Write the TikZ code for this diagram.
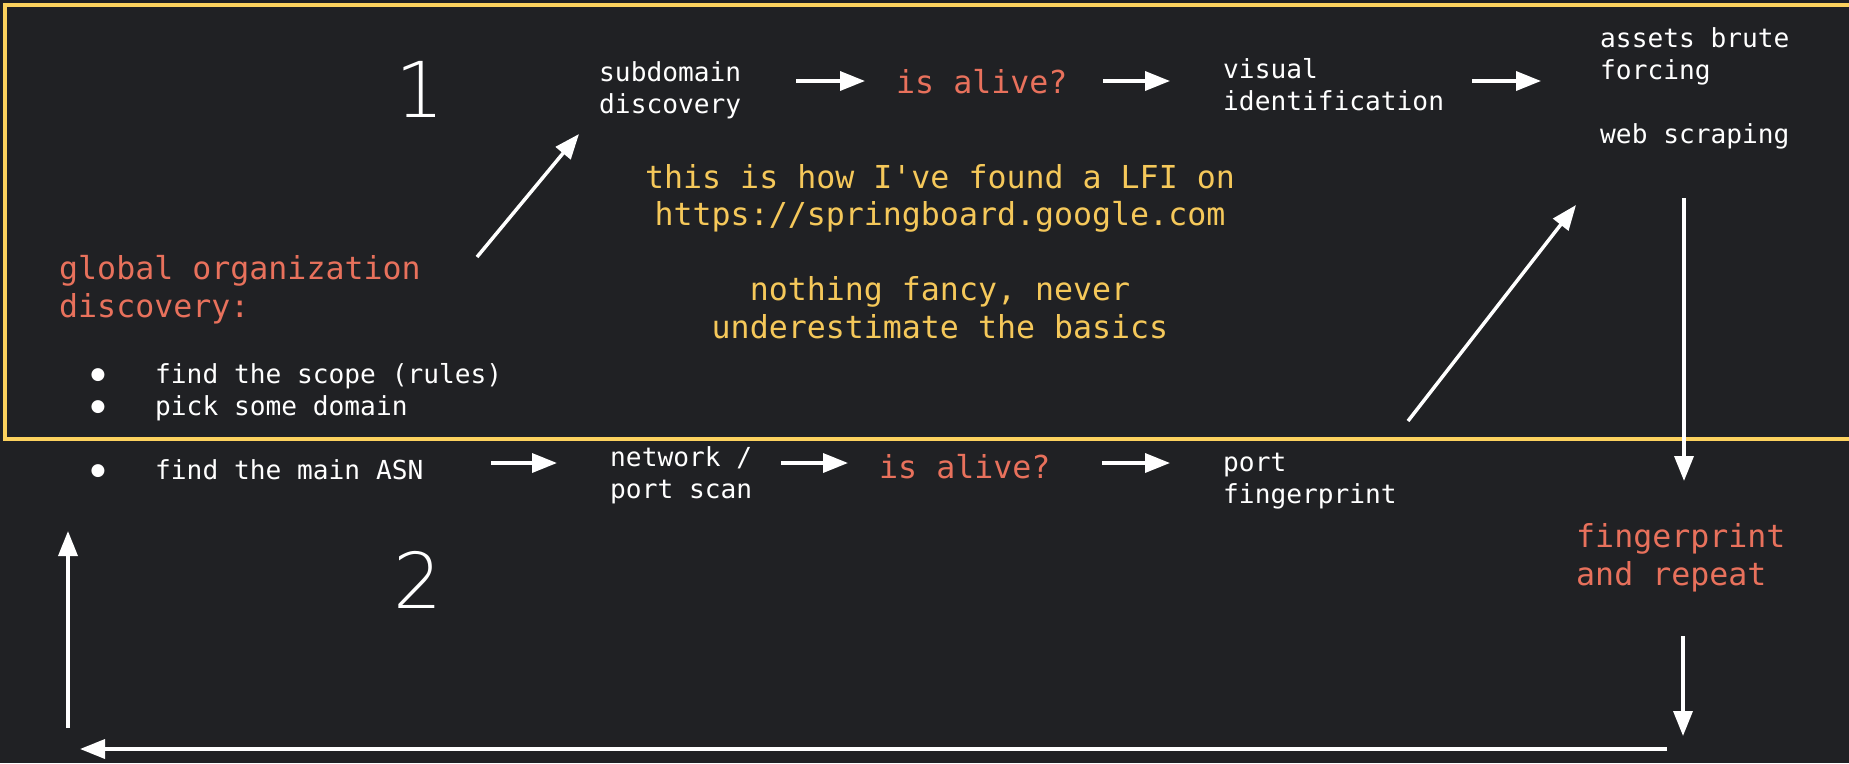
\documentclass[tikz,border=0pt]{standalone}
\usepackage{fontspec}
\setmonofont{DejaVu Sans Mono}
\newfontfamily\numfam{DejaVu Sans ExtraLight}
\newfontfamily\bulfam{DejaVu Sans}
\usetikzlibrary{arrows.meta}
\definecolor{bg}{HTML}{202124}
\definecolor{ylwline}{HTML}{FCD25E}
\definecolor{ylwtext}{HTML}{F5C85A}
\definecolor{redtext}{HTML}{E8715C}
\newcommand\wfont{\fontsize{26.2}{32}\selectfont\ttfamily}
\newcommand\cfont{\fontsize{31.6}{38}\selectfont\ttfamily}
\newcommand\yfont{\fontsize{31.6}{37.5}\selectfont\ttfamily}
\newcommand\nfont{\fontsize{77}{80}\selectfont\numfam}
\begin{document}
\begin{tikzpicture}[x=1pt,y=-1pt,
  wtxt/.style={text=white, font=\wfont, inner sep=0pt, anchor=base west, align=left},
  ctxt/.style={font=\cfont, inner sep=0pt, anchor=base west, align=left},
  numtxt/.style={text=white, font=\nfont, inner sep=0pt, anchor=base},
  bul/.style={text=white, font=\fontsize{17}{20}\selectfont\bulfam, inner sep=0pt, anchor=center},
  arr/.style={draw=white, line width=3.5pt, -{Triangle[length=25pt,width=19pt]}}]
\fill[bg] (0,0) rectangle (1849,763);
\useasboundingbox (0,0) rectangle (1849,763);
\draw[ylwline, line width=3.5pt] (1852,5) -- (5,5) -- (5,439) -- (1852,439);

% numbers (anchor = baseline of last line)
\node[numtxt] (one) at (420,117) {1};
\node[numtxt] (two) at (418,608) {2};

% top row
\node[wtxt] (sub) at (599,113) {subdomain\\discovery};
\node[ctxt,text=redtext] (alive1) at (896,93) {is alive?};
\node[wtxt] (vis) at (1223,110) {visual\\identification};
\node[wtxt] (assets) at (1600,143) {assets brute\\forcing\\[32pt]web scraping};

% note
\node[font=\yfont,inner sep=0pt,text=ylwtext,align=center,anchor=base] (lfi) at (940,338)
  {this is how I've found a LFI on\\https://springboard.google.com\\[37.5pt]nothing fancy, never\\underestimate the basics};

% left block
\node[ctxt,text=redtext] (global) at (59,317) {global organization\\discovery:};
\node[bul] (b1) at (98,375) {●};
\node[bul] (b2) at (98,407) {●};
\node[bul] (b3) at (98,471) {●};
\node[wtxt] (scope) at (155,383) {find the scope (rules)};
\node[wtxt] (pick) at (155,415) {pick some domain};
\node[wtxt] (asn) at (155,479) {find the main ASN};

% bottom row
\node[wtxt] (net) at (610,498) {network /\\port scan};
\node[ctxt,text=redtext] (alive2) at (879,478) {is alive?};
\node[wtxt] (port) at (1223,503) {port\\fingerprint};
\node[ctxt,text=redtext] (fpr) at (1576,585) {fingerprint\\and repeat};

% connector end points
\coordinate (a1s) at (796,81);  \coordinate (a1e) at (865,81);
\coordinate (a2s) at (1103,81); \coordinate (a2e) at (1170,81);
\coordinate (a3s) at (1472,81); \coordinate (a3e) at (1541,81);
\coordinate (d1s) at (477,257); \coordinate (d1e) at (579,134);
\coordinate (b1s) at (491,463); \coordinate (b1e) at (557,463);
\coordinate (b2s) at (781,463); \coordinate (b2e) at (848,463);
\coordinate (b3s) at (1102,463);\coordinate (b3e) at (1170,463);
\coordinate (d2s) at (1408,421);\coordinate (d2e) at (1576,205);
\coordinate (v1s) at (1684,198);\coordinate (v1e) at (1684,481);
\coordinate (v2s) at (1683,636);\coordinate (v2e) at (1683,736);
\coordinate (hs) at (1667,749); \coordinate (he) at (80,749);
\coordinate (ls) at (68,728);   \coordinate (le) at (68,531);

\draw[arr] (a1s) -- (a1e);
\draw[arr] (a2s) -- (a2e);
\draw[arr] (a3s) -- (a3e);
\draw[arr] (d1s) -- (d1e);
\draw[arr] (b1s) -- (b1e);
\draw[arr] (b2s) -- (b2e);
\draw[arr] (b3s) -- (b3e);
\draw[arr] (d2s) -- (d2e);
\draw[arr] (v1s) -- (v1e);
\draw[arr] (v2s) -- (v2e);
\draw[arr] (hs) -- (he);
\draw[arr] (ls) -- (le);
\end{tikzpicture}
\end{document}
